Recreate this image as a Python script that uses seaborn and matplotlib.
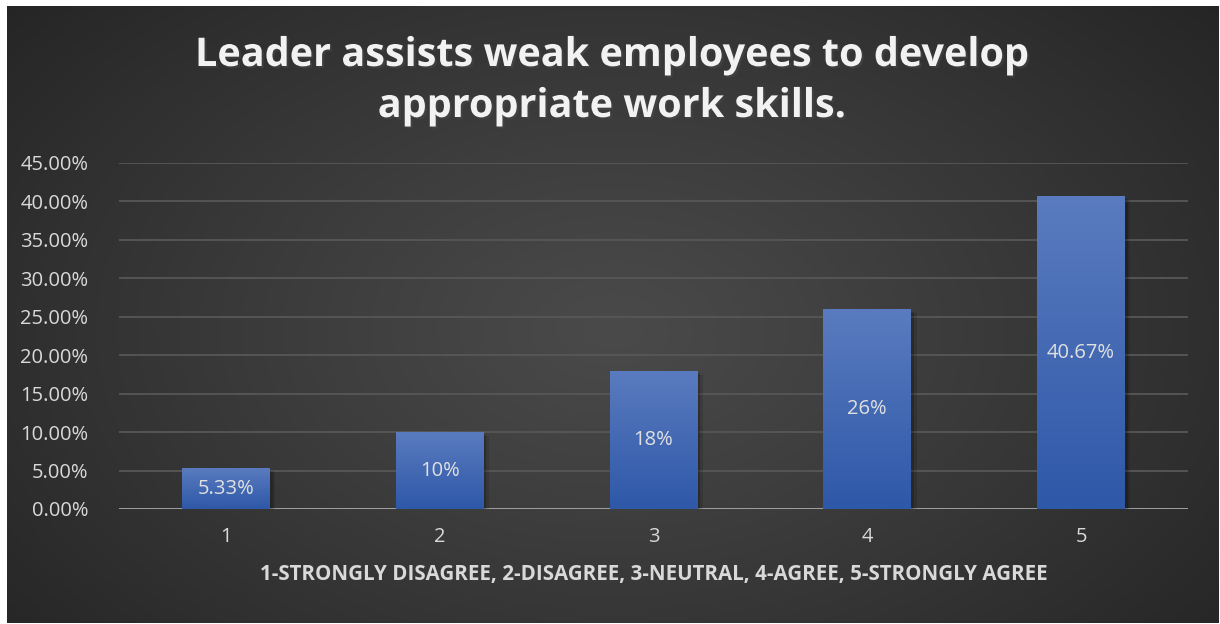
import numpy as np
import pandas as pd
import matplotlib
matplotlib.use("Agg")
import matplotlib.pyplot as plt
import matplotlib.patheffects as pe
import seaborn as sns

# Survey responses
categories = ["1", "2", "3", "4", "5"]
shares = [0.0533, 0.10, 0.18, 0.26, 0.4067]
bar_labels = ["5.33%", "10%", "18%", "26%", "40.67%"]
y_ticks = [0.00, 0.05, 0.10, 0.15, 0.20, 0.25, 0.30, 0.35, 0.40, 0.45]

title = "Leader assists weak employees to develop\nappropriate work skills."
x_title = "1-STRONGLY DISAGREE, 2-DISAGREE, 3-NEUTRAL, 4-AGREE, 5-STRONGLY AGREE"

sns.set_theme(style="dark")
plt.rcParams["font.family"] = ["Open Sans", "DejaVu Sans"]

W, H = 1220, 624
fig = plt.figure(figsize=(W / 100, H / 100), dpi=100, facecolor="white")

# Dark radial-gradient panel
bg = fig.add_axes([7 / W, 1 / H, (1219 - 7) / W, (623 - 6) / H])
gx = np.linspace(-1, 1, 400)
gy = np.linspace(-1, 1, 220)
X, Y = np.meshgrid(gx, gy)
Yc = Y + 0.05
r = np.clip(np.sqrt((X * 0.95) ** 2 + (Yc * 0.75) ** 2), 0, 1.25) / 1.25
lo, hi = 0x25 / 255, 0x4a / 255
val = hi - (hi - lo) * r ** 1.1
bg.imshow(np.dstack([val, val, val]), aspect="auto", extent=[0, 1, 0, 1], origin="lower")
bg.set_xticks([]); bg.set_yticks([])
for s in bg.spines.values():
    s.set_visible(False)
bg.set_zorder(0)

ax = fig.add_axes([119 / W, 1 - 509 / H, (1188 - 119) / W, (509 - 163) / H])
ax.set_zorder(1)
ax.patch.set_alpha(0)

df = pd.DataFrame({"score": categories, "share": shares})
sns.barplot(data=df, x="score", y="share", ax=ax, color="#3a62b0", width=0.41,
            saturation=1, edgecolor="none", zorder=3)

ax.set_ylim(0, 0.45)
ax.set_xlim(-0.5, 4.5)
ax.set_yticks(y_ticks)
ax.set_yticklabels([f"{v * 100:.2f}%" for v in y_ticks])
ax.yaxis.grid(True, color="#575757", linewidth=1.3, zorder=0)
ax.xaxis.grid(False)
ax.set_axisbelow(True)
for s in ax.spines.values():
    s.set_visible(False)
ax.axhline(0, color="#a6a6a6", linewidth=2, zorder=2.5)
ax.tick_params(axis="y", length=0, pad=22, labelsize=14.5, labelcolor="#d9d9d9")
ax.tick_params(axis="x", length=0, pad=13, labelsize=14.5, labelcolor="#d9d9d9")
ax.set_ylabel("")
ax.set_xlabel(x_title, fontsize=14.8, fontweight="bold", color="#d9d9d9", labelpad=12)

# Vertical gradient fill on each bar, plus a soft shadow
grad = np.linspace(0, 1, 256).reshape(-1, 1)
top_c = np.array([0x5a, 0x7b, 0xbf]) / 255
bot_c = np.array([0x2e, 0x58, 0xa8]) / 255
img = bot_c + (top_c - bot_c) * grad[..., None]
for patch, lab in zip(ax.patches, bar_labels):
    patch.set_path_effects([
        pe.SimplePatchShadow(offset=(4, -3), alpha=0.12, shadow_rgbFace="black"),
        pe.SimplePatchShadow(offset=(2, -2), alpha=0.2, shadow_rgbFace="black"),
        pe.Normal()])
    x0, y0 = patch.get_x(), patch.get_y()
    w, h = patch.get_width(), patch.get_height()
    im = ax.imshow(img, extent=[x0, x0 + w, y0, y0 + h], origin="lower",
                   aspect="auto", zorder=3.5)
    im.set_clip_path(patch)
    ax.text(x0 + w / 2, y0 + h / 2, lab, ha="center", va="center",
            fontsize=14.5, color="#e0e0e0", zorder=5)
ax.set_xlim(-0.5, 4.5)
ax.set_ylim(0, 0.45)

fig.text(612 / W, 1 - 81 / H, title, ha="center", va="center", fontsize=28.5,
         fontweight="bold", color="#f2f2f2", linespacing=1.4,
         path_effects=[pe.withSimplePatchShadow(offset=(1.5, -1.5), alpha=0.5)])

fig.savefig("out.png", dpi=100, facecolor="white")
